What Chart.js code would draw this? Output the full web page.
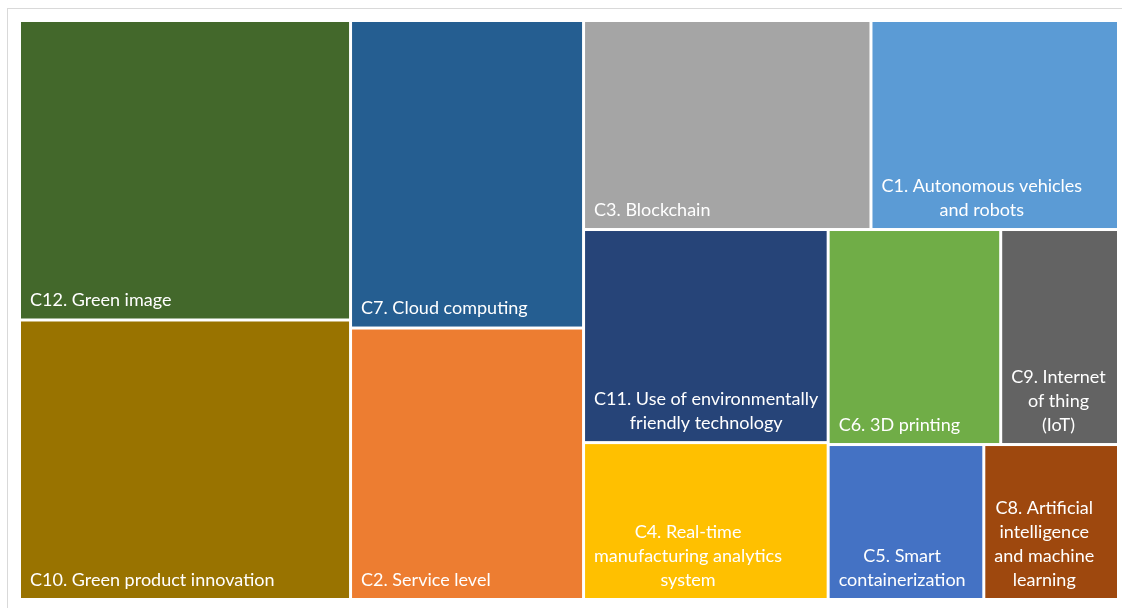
<!DOCTYPE html>
<html>
<head>
<meta charset="utf-8">
<script src="https://cdn.jsdelivr.net/npm/chart.js@4.4.1/dist/chart.umd.min.js"></script>
<style>
  html, body { margin: 0; padding: 0; background: #fff; }
  #wrap { width: 1122px; height: 608px; position: relative; }
</style>
</head>
<body>
<div id="wrap"><canvas id="treemap"></canvas></div>
<script>
// Criteria (in drawing order), their weights (%) and fill colours
const labels = [
    ['C12. Green image'],
    ['C10. Green product innovation'],
    ['C7. Cloud computing'],
    ['C2. Service level'],
    ['C3. Blockchain'],
    ['C1. Autonomous vehicles', 'and robots'],
    ['C11. Use of environmentally', 'friendly technology'],
    ['C4. Real-time', 'manufacturing analytics', 'system'],
    ['C6. 3D printing'],
    ['C9. Internet', 'of thing', '(IoT)'],
    ['C5. Smart', 'containerization'],
    ['C8. Artificial', 'intelligence', 'and machine', 'learning']
];
const weights = [15.58, 14.54, 11.26, 9.94, 9.44, 8.13, 8.19, 6.03, 5.83, 3.98, 3.79, 3.28];
const colors = ['#43682b', '#997300', '#255e91', '#ed7d31', '#a5a5a5', '#5b9bd5',
                '#264478', '#ffc000', '#70ad47', '#636363', '#4472c4', '#9e480e'];

// squarified layout, keeps the given order
function worst(row, side) {
    const s = row.reduce((a, b) => a + b, 0);
    let w = 0;
    row.forEach(r => {
        w = Math.max(w, (side * side * r) / (s * s), (s * s) / (side * side * r));
    });
    return w;
}
function squarify(areas, x, y, w, h) {
    const out = [];
    let i = 0;
    while (i < areas.length) {
        const side = Math.min(w, h);
        let row = [areas[i]];
        let j = i + 1;
        while (j < areas.length) {
            const next = row.concat(areas[j]);
            if (worst(next, side) > worst(row, side)) break;
            row = next; j++;
        }
        const thick = row.reduce((a, b) => a + b, 0) / side;
        let off = 0;
        if (w >= h) {
            row.forEach(a => { const len = a / thick; out.push({ x: x, y: y + off, w: thick, h: len }); off += len; });
            x += thick; w -= thick;
        } else {
            row.forEach(a => { const len = a / thick; out.push({ x: x + off, y: y, w: len, h: thick }); off += len; });
            y += thick; h -= thick;
        }
        i = j;
    }
    return out;
}

const GAP = 3;

const treemapPlugin = {
    id: 'treemap',
    beforeDraw(chart) {
        const ctx = chart.ctx;
        ctx.save();
        ctx.strokeStyle = '#d9d9d9';
        ctx.lineWidth = 1;
        ctx.strokeRect(7.5, 8.5, 1130, 620);
        ctx.restore();
    },
    afterDatasetsDraw(chart) {
        const { ctx, chartArea, scales: { x, y } } = chart;
        const cw = chartArea.right - chartArea.left;
        const chh = chartArea.bottom - chartArea.top;
        const W = cw + GAP, H = chh + GAP;
        const total = weights.reduce((a, b) => a + b, 0);
        const rects = squarify(weights.map(v => v / total * W * H), 0, 0, W, H);

        ctx.save();
        rects.forEach((r, i) => {
            const left = x.getPixelForValue(r.x / cw);
            const right = x.getPixelForValue((r.x + r.w - GAP) / cw);
            const top = y.getPixelForValue(r.y / chh);
            const bottom = y.getPixelForValue((r.y + r.h - GAP) / chh);
            ctx.fillStyle = colors[i];
            ctx.fillRect(left, top, right - left, bottom - top);

            // label block: left aligned, lines centred inside it, sitting on the bottom
            ctx.font = '18px Lato, "Open Sans", sans-serif';
            ctx.fillStyle = '#ffffff';
            ctx.textAlign = 'center';
            ctx.textBaseline = 'middle';
            const lines = labels[i];
            const bw = Math.max(...lines.map(l => ctx.measureText(l).width));
            const cx = left + 9 + bw / 2;
            lines.forEach((l, k) => {
                const cy = bottom - 18 - (lines.length - 1 - k) * 24;
                ctx.fillText(l, cx, cy);
            });
        });
        ctx.restore();
    }
};

new Chart(document.getElementById('treemap'), {
    type: 'scatter',
    data: { datasets: [{ data: [], pointRadius: 0 }] },
    options: {
        responsive: true,
        maintainAspectRatio: false,
        animation: false,
        layout: { padding: { left: 21, right: 5, top: 22, bottom: 10 } },
        plugins: { legend: { display: false }, tooltip: { enabled: false } },
        scales: {
            x: { type: 'linear', min: 0, max: 1, display: false },
            y: { type: 'linear', min: 0, max: 1, reverse: true, display: false }
        }
    },
    plugins: [treemapPlugin]
});
</script>
</body>
</html>
